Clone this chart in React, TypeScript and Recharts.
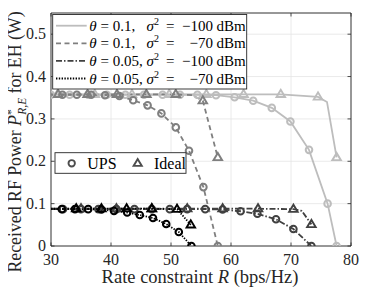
import React from 'react';
import { ComposedChart, Line, XAxis, YAxis, CartesianGrid, ReferenceArea } from 'recharts';

// ---- data ----
const R_TICKS = [30, 40, 50, 60, 70, 80];
const P_TICKS = [0, 0.1, 0.2, 0.3, 0.4, 0.5];

// theta = 0.1, sigma^2 = -100 dBm
const aUpsR = [30, 33.1, 36.2, 39.3, 42.4, 45.5, 48.6, 51.5, 54.4, 57.5, 60.6, 63.7, 66.8, 69.9, 73.0, 76.1, 77.6];
const aUpsP = [0.357, 0.357, 0.357, 0.357, 0.357, 0.357, 0.357, 0.357, 0.357, 0.356, 0.351, 0.343, 0.326, 0.294, 0.227, 0.1, 0];
const aIdealR = [30, 31.1, 37.3, 43.5, 49.7, 55.9, 62.1, 68.3, 74.5, 76.0, 77.6];
const aIdealP = [0.358, 0.358, 0.358, 0.358, 0.358, 0.358, 0.358, 0.358, 0.352, 0.34, 0.209];
const aIdealHide = [0, 9];

// theta = 0.1, sigma^2 = -70 dBm
const bUpsR = [30, 31.9, 34.3, 36.7, 39.0, 41.4, 43.7, 46.1, 48.4, 50.8, 53.0, 55.4, 57.8];
const bUpsP = [0.357, 0.357, 0.357, 0.357, 0.356, 0.354, 0.344, 0.332, 0.313, 0.28, 0.225, 0.139, 0];
const bIdealR = [30, 31.2, 36.1, 41.0, 45.9, 50.8, 53.5, 55.3, 57.8];
const bIdealP = [0.358, 0.358, 0.358, 0.358, 0.358, 0.358, 0.356, 0.343, 0.209];
const bIdealHide = [0, 6];

// theta = 0.05, sigma^2 = -100 dBm
const cUpsR = [30, 32.0, 35.0, 37.9, 40.9, 43.9, 46.8, 49.8, 52.7, 55.7, 58.6, 61.6, 64.4, 67.5, 70.4, 73.4];
const cUpsP = [0.087, 0.087, 0.087, 0.087, 0.087, 0.087, 0.087, 0.087, 0.087, 0.087, 0.086, 0.082, 0.076, 0.063, 0.04, 0];
const cIdealR = [30, 35.0, 40.9, 46.8, 52.7, 58.6, 64.5, 70.4, 71.8, 73.4];
const cIdealP = [0.088, 0.088, 0.088, 0.088, 0.088, 0.088, 0.088, 0.087, 0.083, 0.051];
const cIdealHide = [0, 8];

// theta = 0.05, sigma^2 = -70 dBm
const dUpsR = [30, 31.8, 34.0, 36.2, 38.4, 40.5, 42.7, 44.8, 47.0, 49.2, 51.3, 53.4];
const dUpsP = [0.087, 0.087, 0.087, 0.087, 0.086, 0.083, 0.079, 0.073, 0.066, 0.052, 0.033, 0];
const dIdealR = [30, 34.2, 38.4, 42.6, 46.8, 51.0, 53.3];
const dIdealP = [0.088, 0.088, 0.088, 0.088, 0.088, 0.087, 0.05];

// ---- layout / style ----
const W = 380;
const H = 283;
const PLOT_LEFT = 43;
const PLOT_RIGHT = 343;
const PLOT_TOP = 5;
const PLOT_BOTTOM = 238;
const FONT = 'Liberation Serif, DejaVu Serif, serif';
const AXIS = '#262626';
const fs = (size: number, extra: React.CSSProperties = {}): React.CSSProperties => ({ fontFamily: FONT, fontSize: size, ...extra });

const C_A = '#bdbdbd';
const C_B = '#7f7f7f';
const C_C = '#404040';
const C_D = '#000000';
const DASH_B = '5 3.5';
const DASH_C = '6 2 1.5 2';
const DASH_D = '1.4 1.4';

type Pt = { r: number; p: number; h: boolean };
const zip = (rs: number[], ps: number[], hide: number[] = [0]): Pt[] =>
  rs.map((r, i) => ({ r, p: ps[i], h: hide.includes(i) }));

const makeDot = (kind: 'o' | 't', color: string) => (props: any) => {
  const { cx, cy, payload, index } = props;
  if (payload.h || cx == null || cy == null) return <g key={`m-${index}`} />;
  if (kind === 'o') {
    return <circle key={`m-${index}`} cx={cx} cy={cy} r={3.3} fill="none" stroke={color} strokeWidth={2} />;
  }
  const s = 4.5;
  const pts = `${cx},${cy - s} ${cx - s * 0.95},${cy + s * 0.6} ${cx + s * 0.95},${cy + s * 0.6}`;
  return <polygon key={`m-${index}`} points={pts} fill="none" stroke={color} strokeWidth={1.9} />;
};

const XTick = (props: any) => {
  const { x, payload } = props;
  return (
    <g>
      <line x1={x} x2={x} y1={PLOT_BOTTOM} y2={PLOT_BOTTOM - 3.5} stroke={AXIS} strokeWidth={0.8} />
      <line x1={x} x2={x} y1={PLOT_TOP} y2={PLOT_TOP + 3.5} stroke={AXIS} strokeWidth={0.8} />
      <text x={x} y={PLOT_BOTTOM + 19} textAnchor="middle" style={fs(16)} fill="#262626">
        {String(payload.value)}
      </text>
    </g>
  );
};

const YTick = (props: any) => {
  const { y, payload } = props;
  return (
    <g>
      <line x1={PLOT_LEFT} x2={PLOT_LEFT + 3.5} y1={y} y2={y} stroke={AXIS} strokeWidth={0.8} />
      <line x1={PLOT_RIGHT} x2={PLOT_RIGHT - 3.5} y1={y} y2={y} stroke={AXIS} strokeWidth={0.8} />
      <text x={PLOT_LEFT - 5} y={y + 5} textAnchor="end" style={fs(16)} fill="#262626">
        {String(payload.value)}
      </text>
    </g>
  );
};

type S = { name: string; up: Pt[]; id: Pt[]; color: string; dash?: string };
const SERIES: S[] = [
  { name: 'a', up: zip(aUpsR, aUpsP, []), id: zip(aIdealR, aIdealP, aIdealHide), color: C_A },
  { name: 'b', up: zip(bUpsR, bUpsP), id: zip(bIdealR, bIdealP, bIdealHide), color: C_B, dash: DASH_B },
  { name: 'c', up: zip(cUpsR, cUpsP), id: zip(cIdealR, cIdealP, cIdealHide), color: C_C, dash: DASH_C },
  { name: 'd', up: zip(dUpsR, dUpsP), id: zip(dIdealR, dIdealP), color: C_D, dash: DASH_D },
];

const LEG_ROWS = [
  { th: ' = 0.1,', val: '−100', color: C_A, dash: undefined as string | undefined },
  { th: ' = 0.1,', val: '−70', color: C_B, dash: DASH_B },
  { th: ' = 0.05,', val: '−100', color: C_C, dash: DASH_C },
  { th: ' = 0.05,', val: '−70', color: C_D, dash: DASH_D },
];

export default function App() {
  return (
    <div style={{ position: 'relative', width: W, height: H }}>
      <ComposedChart width={W} height={H} margin={{ top: PLOT_TOP, right: W - PLOT_RIGHT, left: 0, bottom: 0 }}>
        <CartesianGrid stroke="#e4e4e4" strokeWidth={0.8} />
        <XAxis
          dataKey="r"
          type="number"
          domain={[30, 80]}
          ticks={R_TICKS}
          allowDataOverflow
          height={H - PLOT_BOTTOM}
          axisLine={false}
          tickLine={false}
          tick={<XTick />}
        />
        <YAxis
          dataKey="p"
          type="number"
          domain={[0, 0.55]}
          ticks={P_TICKS}
          allowDataOverflow
          width={PLOT_LEFT}
          axisLine={false}
          tickLine={false}
          tick={<YTick />}
        />
        <ReferenceArea x1={30} x2={80} y1={0} y2={0.55} fill="none" stroke={AXIS} strokeWidth={0.9} ifOverflow="visible" />
        {SERIES.map((s) => [
          <Line
            key={`${s.name}-ups`}
            data={s.up}
            dataKey="p"
            type="linear"
            stroke={s.color}
            strokeWidth={1.8}
            strokeDasharray={s.dash}
            dot={makeDot('o', s.color)}
            activeDot={false}
            isAnimationActive={false}
          />,
          <Line
            key={`${s.name}-ideal`}
            data={s.id}
            dataKey="p"
            type="linear"
            stroke={s.color}
            strokeWidth={1.8}
            strokeDasharray={s.dash}
            dot={makeDot('t', s.color)}
            activeDot={false}
            isAnimationActive={false}
          />,
        ])}
      </ComposedChart>
      <svg width={W} height={H} style={{ position: 'absolute', left: 0, top: 0, pointerEvents: 'none' }}>
        {/* Y axis label */}
        <text transform="rotate(-90)" x={-134} y={13} textAnchor="middle" style={fs(17.8)} fill="#262626">
          Received RF Power <tspan fontStyle="italic">P</tspan>
          <tspan fontSize={11.5} dy={-6.5}>*</tspan>
          <tspan fontSize={11.5} fontStyle="italic" dx={-5.5} dy={11}>R,E</tspan>
          <tspan dy={-4.5}> for EH (W)</tspan>
        </text>
        {/* X axis label */}
        <text x={192} y={275} textAnchor="middle" style={fs(18.5)} fill="#262626">
          Rate constraint <tspan fontStyle="italic">R</tspan> (bps/Hz)
        </text>
        {/* legend 1 */}
        <rect x={44.7} y={6.5} width={194} height={74.5} fill="#ffffff" stroke={AXIS} strokeWidth={0.9} />
        {LEG_ROWS.map((row, i) => {
          const cy = 17.7 + i * 17.6;
          return (
            <g key={`lr-${i}`}>
              <line x1={48} x2={78.7} y1={cy} y2={cy} stroke={row.color} strokeWidth={1.8} strokeDasharray={row.dash} />
              <text x={81.3} y={cy + 5} style={fs(15)} fill="#000">
                <tspan fontStyle="italic">θ</tspan>
                {row.th}
              </text>
              <text x={138.5} y={cy + 5} style={fs(15)} fill="#000">
                <tspan fontStyle="italic">σ</tspan>
                <tspan fontSize={10} dy={-6}>2</tspan>
              </text>
              <text x={158} y={cy + 5} style={fs(15)} fill="#000">=</text>
              <text x={205} y={cy + 5} textAnchor="end" style={fs(15)} fill="#000">{row.val}</text>
              <text x={208.5} y={cy + 5} style={fs(15)} fill="#000">dBm</text>
            </g>
          );
        })}
        {/* legend 2 */}
        <rect x={47} y={144.7} width={131} height={20.6} fill="#ffffff" stroke={AXIS} strokeWidth={0.9} />
        <circle cx={63.7} cy={155.3} r={3.2} fill="none" stroke="#4d4d4d" strokeWidth={1.9} />
        <text x={79.3} y={160.5} style={fs(16)} fill="#000">UPS</text>
        <polygon points="129.7,151 125.6,157.9 133.8,157.9" fill="none" stroke="#4d4d4d" strokeWidth={1.9} />
        <text x={146} y={160.5} style={fs(16)} fill="#000">Ideal</text>
      </svg>
    </div>
  );
}
